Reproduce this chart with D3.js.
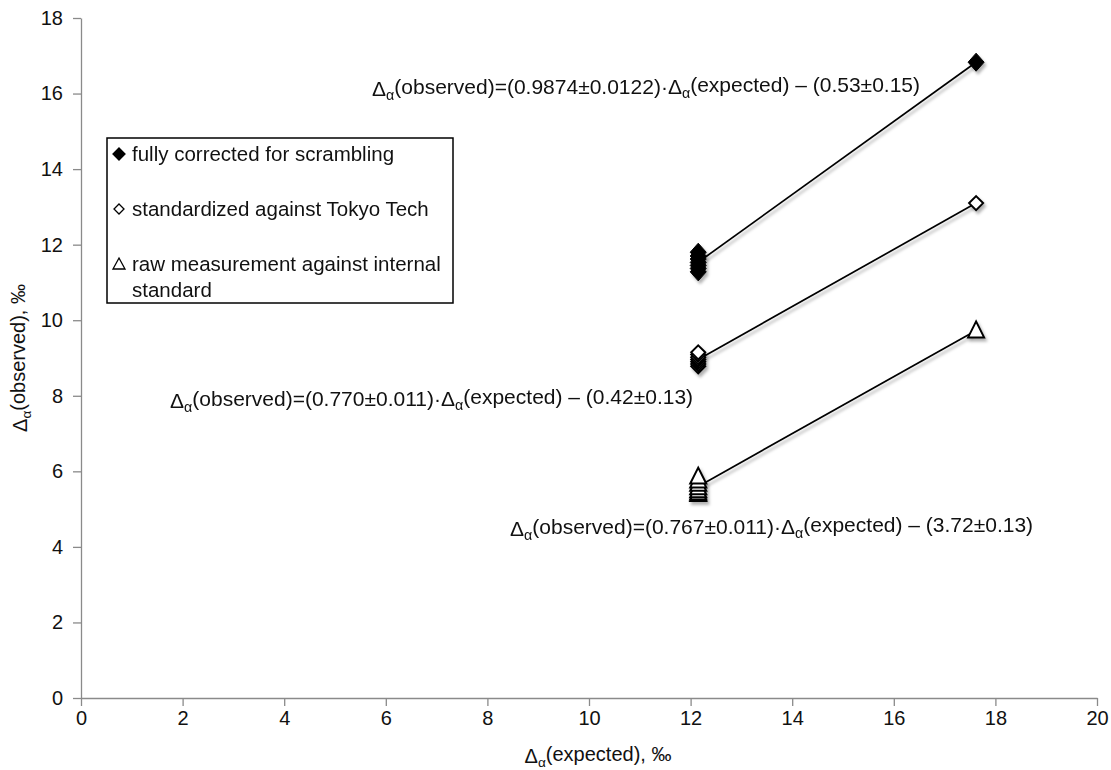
<!DOCTYPE html>
<html>
<head>
<meta charset="utf-8">
<script src="https://cdn.jsdelivr.net/npm/d3@7"></script>
<style>
  body { margin: 0; background: #fff; }
  svg { display: block; font-family: "Liberation Sans", Arial, Helvetica, sans-serif; }
  .axis path, .axis line { stroke: #8a8a8a; stroke-width: 1.3; }
  .axis text { fill: #111; font-size: 20px; }
</style>
</head>
<body>
<div id="chart"></div>
<script>
//~~~~~~~~~~~~~~~~~~~~~~~~~~~~~~~~~~~~
// Data
//~~~~~~~~~~~~~~~~~~~~~~~~~~~~~~~~~~~~
const expected       = [12.15, 12.15, 12.15, 12.15, 12.15, 12.15, 12.15, 17.62];
const fullyCorrected = [11.28, 11.37, 11.45, 11.53, 11.62, 11.70, 11.80, 16.83];
const standardized   = [8.78, 8.84, 8.90, 8.96, 9.02, 9.09, 9.15, 13.10];
const rawMeasured    = [5.40, 5.44, 5.50, 5.58, 5.67, 5.76, 5.86, 9.73];

const xTicks = [0, 2, 4, 6, 8, 10, 12, 14, 16, 18, 20];
const yTicks = [0, 2, 4, 6, 8, 10, 12, 14, 16, 18];

const seriesNames = [
    "fully corrected for scrambling",
    "standardized against Tokyo Tech",
    "raw measurement against internal standard"
];

const equations = [
    "Δα(observed)=(0.9874±0.0122)·Δα(expected) – (0.53±0.15)",
    "Δα(observed)=(0.770±0.011)·Δα(expected) – (0.42±0.13)",
    "Δα(observed)=(0.767±0.011)·Δα(expected)  – (3.72±0.13)"
];

//~~~~~~~~~~~~~~~~~~~~~~~~~~~~~~~~~~~~
// Chart
//~~~~~~~~~~~~~~~~~~~~~~~~~~~~~~~~~~~~
const width = 1111;
const height = 770;
const margin = {top: 18, right: 14, bottom: 72, left: 81};

const svg = d3.select("#chart").append("svg")
    .attr("width", width)
    .attr("height", height);

const defs = svg.append("defs");
defs.append("filter")
    .attr("id", "shadow")
    .attr("x", "-50%").attr("y", "-50%")
    .attr("width", "200%").attr("height", "200%")
    .append("feDropShadow")
    .attr("dx", 2).attr("dy", 3)
    .attr("stdDeviation", 1.6)
    .attr("flood-color", "#000")
    .attr("flood-opacity", 0.3);

const x = d3.scaleLinear().domain([0, 20]).range([margin.left, width - margin.right]);
const y = d3.scaleLinear().domain([0, 18]).range([height - margin.bottom, margin.top]);

svg.append("g")
    .attr("class", "axis")
    .attr("transform", `translate(0,${y(0)})`)
    .call(d3.axisBottom(x).tickValues(xTicks).tickSize(8).tickPadding(5).tickSizeOuter(0))
    .call(g => g.selectAll("text").attr("font-family", null));

svg.append("g")
    .attr("class", "axis")
    .attr("transform", `translate(${x(0)},0)`)
    .call(d3.axisLeft(y).tickValues(yTicks).tickSize(8).tickPadding(10).tickSizeOuter(0))
    .call(g => g.selectAll("text").attr("font-family", null));

// writes a string, turning every "Δα" into Δ with a subscript alpha
function richText(sel, str) {
    const parts = str.split("Δα");
    parts.forEach((p, i) => {
        if (i > 0) {
            sel.append("tspan").text("Δ");
            sel.append("tspan").attr("font-size", "0.68em").attr("dy", "0.28em").text("α");
            sel.append("tspan").attr("dy", "-0.28em").text(p);
        } else if (p.length) {
            sel.append("tspan").text(p);
        }
    });
}

// axis titles
const xTitle = svg.append("text")
    .attr("x", 598)
    .attr("y", 763)
    .attr("text-anchor", "middle")
    .attr("font-size", 20)
    .attr("fill", "#111");
richText(xTitle, "Δα(expected), ‰");

const yTitle = svg.append("text")
    .attr("transform", `translate(27,${(y(0) + y(18)) / 2}) rotate(-90)`)
    .attr("text-anchor", "middle")
    .attr("font-size", 20)
    .attr("fill", "#111");
richText(yTitle, "Δα(observed), ‰");

// regression lines (least squares per series)
function fit(xs, ys) {
    const mx = d3.mean(xs), my = d3.mean(ys);
    let sxy = 0, sxx = 0;
    xs.forEach((v, i) => { sxy += (v - mx) * (ys[i] - my); sxx += (v - mx) * (v - mx); });
    const b = sxy / sxx;
    return v => my + b * (v - mx);
}

const allSeries = [fullyCorrected, standardized, rawMeasured];
const xMin = d3.min(expected), xMax = d3.max(expected);
allSeries.forEach(s => {
    const f = fit(expected, s);
    svg.append("line")
        .attr("x1", x(xMin)).attr("y1", y(f(xMin)))
        .attr("x2", x(xMax)).attr("y2", y(f(xMax)))
        .attr("stroke", "#000")
        .attr("stroke-width", 1.7)
        .attr("filter", "url(#shadow)");
});

// markers
const marker = [
    {path: `M0,-9L8,0L0,9L-8,0Z`, fill: "#000", sw: 1},
    {path: `M0,-7L7,0L0,7L-7,0Z`, fill: "#fff", sw: 2},
    {path: `M0,-9L8,7L-8,7Z`, fill: "#fff", sw: 2}
];

allSeries.forEach((s, k) => {
    svg.append("g")
        .attr("filter", "url(#shadow)")
        .selectAll("path")
        .data(s.map((v, i) => ({x: expected[i], y: v})))
        .join("path")
        .attr("transform", d => `translate(${x(d.x)},${y(d.y)})`)
        .attr("d", marker[k].path)
        .attr("fill", marker[k].fill)
        .attr("stroke", "#000")
        .attr("stroke-width", marker[k].sw);
});

// equations
const eqPos = [
    {x: 372, y: 96},
    {x: 170, y: 408},
    {x: 510, y: 536}
];
equations.forEach((e, i) => {
    const t = svg.append("text")
        .attr("x", eqPos[i].x)
        .attr("y", eqPos[i].y)
        .attr("font-size", 21)
        .attr("fill", "#111");
    richText(t, e);
});

// legend
const legend = svg.append("g");
legend.append("rect")
    .attr("x", 107).attr("y", 138)
    .attr("width", 346).attr("height", 165)
    .attr("fill", "#fff")
    .attr("stroke", "#000")
    .attr("stroke-width", 1.5);

const legendMarkers = [
    `M0,-6L6,0L0,6L-6,0Z`,
    `M0,-5L5,0L0,5L-5,0Z`,
    `M0,-6L6,5L-6,5Z`
];
const legendRows = [154, 209, 264];
seriesNames.forEach((name, i) => {
    legend.append("path")
        .attr("transform", `translate(119,${legendRows[i]})`)
        .attr("d", legendMarkers[i])
        .attr("fill", i === 0 ? "#000" : "#fff")
        .attr("stroke", "#000")
        .attr("stroke-width", 1.3);
    const t = legend.append("text")
        .attr("x", 132)
        .attr("y", legendRows[i] + 7)
        .attr("font-size", 20.5)
        .attr("fill", "#111");
    if (i === 2) {
        t.append("tspan").text("raw measurement against internal");
        t.append("tspan").attr("x", 132).attr("dy", 26).text("standard");
    } else {
        t.text(name);
    }
});
</script>
</body>
</html>
